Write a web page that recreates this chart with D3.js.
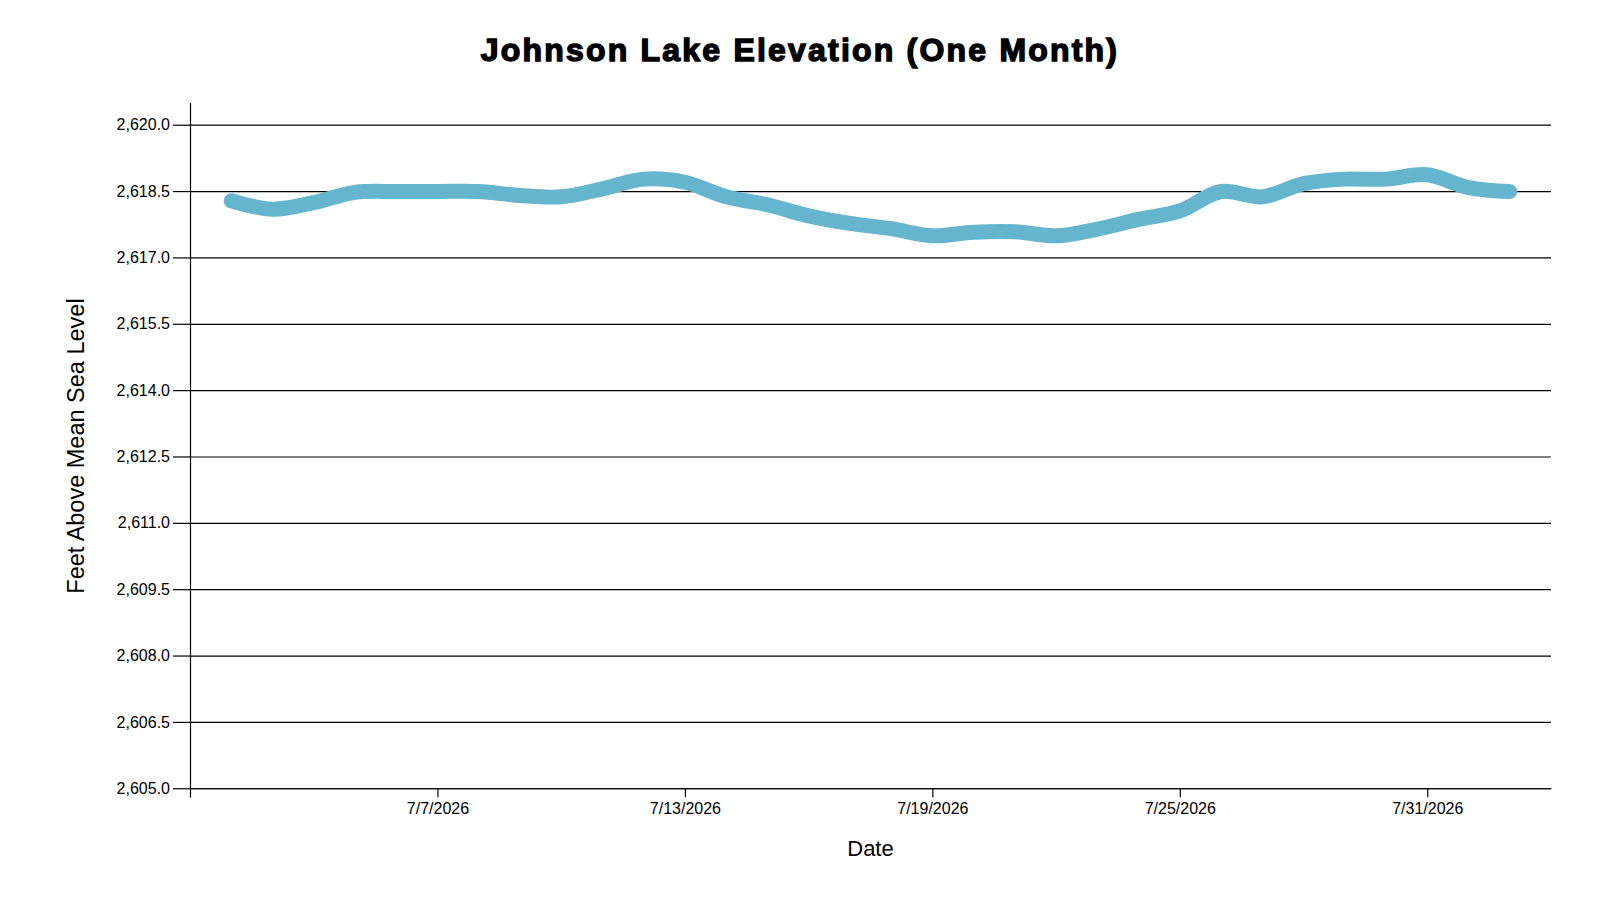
<!DOCTYPE html>
<html>
<head>
<meta charset="utf-8">
<script src="https://cdn.jsdelivr.net/npm/d3@7"></script>
<style>
  body { margin: 0; background: #fff; }
  text { font-family: "Liberation Sans", Arial, sans-serif; }
</style>
</head>
<body>
<div id="container"></div>
<script>
let w = 1600;
let h = 900;

// daily readings, 7/2/2026 .. 8/2/2026
let dates = ["2026-07-02","2026-07-03","2026-07-04","2026-07-05","2026-07-06","2026-07-07","2026-07-08","2026-07-09",
  "2026-07-10","2026-07-11","2026-07-12","2026-07-13","2026-07-14","2026-07-15","2026-07-16","2026-07-17",
  "2026-07-18","2026-07-19","2026-07-20","2026-07-21","2026-07-22","2026-07-23","2026-07-24","2026-07-25",
  "2026-07-26","2026-07-27","2026-07-28","2026-07-29","2026-07-30","2026-07-31","2026-08-01","2026-08-02"];
let elevations = [2618.28, 2618.09, 2618.24, 2618.47, 2618.49, 2618.49, 2618.49, 2618.40,
  2618.37, 2618.55, 2618.77, 2618.70, 2618.37, 2618.19, 2617.94, 2617.77,
  2617.65, 2617.49, 2617.57, 2617.58, 2617.49, 2617.64, 2617.86, 2618.05,
  2618.49, 2618.37, 2618.67, 2618.77, 2618.77, 2618.87, 2618.58, 2618.49];
let xTickDates = ["2026-07-07","2026-07-13","2026-07-19","2026-07-25","2026-07-31"];
let yTickValues = [2605.0, 2606.5, 2608.0, 2609.5, 2611.0, 2612.5, 2614.0, 2615.5, 2617.0, 2618.5, 2620.0];

let parseDate = d3.timeParse("%Y-%m-%d");
let data = dates.map(function(d, i){ return {date: parseDate(d), value: elevations[i]}; });

let plotLeft = 190;
let plotRight = 1551;
let plotTop = 102.6;
let plotBottom = 797.1;

let viz = d3.select("#container")
  .append("svg")
    .attr("width", w)
    .attr("height", h)
;

let xScale = d3.scaleTime()
    .domain([d3.timeDay.offset(data[0].date, -1), d3.timeDay.offset(data[data.length-1].date, 1)])
    .range([plotLeft, plotRight])
;
let yScale = d3.scaleLinear()
    .domain([2604.8, 2620.5])
    .range([plotBottom, plotTop])
;

// horizontal grid lines
let gridGroup = viz.append("g").classed("grid", true)
  .attr("transform", "translate(" + plotLeft + ",0)");
gridGroup.call(d3.axisLeft(yScale).tickValues(yTickValues).tickSize(-(plotRight-plotLeft)).tickFormat(""));
gridGroup.select(".domain").remove();
gridGroup.selectAll("line").attr("stroke", "#000").attr("stroke-width", 1.2);

let yAxis = d3.axisLeft(yScale)
  .tickValues(yTickValues)
  .tickSizeInner(17)
  .tickSizeOuter(0)
  .tickPadding(3)
  .tickFormat(d3.format(",.1f"));
let yAxisGroup = viz.append("g").classed("yAxis", true)
  .attr("transform", "translate(" + plotLeft + ",0)");
yAxisGroup.call(yAxis);
yAxisGroup.selectAll("text").attr("font-size", 16).attr("fill", "#000");
yAxisGroup.selectAll("line, path").attr("stroke", "#000").attr("stroke-width", 1.2);

let xAxis = d3.axisBottom(xScale)
  .tickValues(xTickDates.map(parseDate))
  .tickSizeInner(9)
  .tickSizeOuter(0)
  .tickPadding(5)
  .tickFormat(d3.timeFormat("%-m/%-d/%Y"));
let xAxisGroup = viz.append("g").classed("xAxis", true)
  .attr("transform", "translate(0," + yScale(2605) + ")");
xAxisGroup.call(xAxis);
xAxisGroup.selectAll("text").attr("font-size", 16).attr("fill", "#000");
xAxisGroup.selectAll("line, path").attr("stroke", "#000").attr("stroke-width", 1.2);

// the elevation line
let line = d3.line()
  .x(function(d){ return xScale(d.date); })
  .y(function(d){ return yScale(d.value); })
  .curve(d3.curveCatmullRom);

viz.append("path")
  .datum(data)
  .attr("d", line)
  .attr("fill", "none")
  .attr("stroke", "#64b5cd")
  .attr("stroke-width", 15)
  .attr("stroke-linecap", "round")
  .attr("stroke-linejoin", "round")
;

// title and axis labels
viz.append("text")
  .attr("x", 800)
  .attr("y", 61)
  .attr("text-anchor", "middle")
  .attr("font-size", 32)
  .attr("font-weight", "bold")
  .attr("letter-spacing", 2.2)
  .attr("stroke", "#000")
  .attr("stroke-width", 1.4)
  .text("Johnson Lake Elevation (One Month)")
;

viz.append("text")
  .attr("x", (plotLeft + plotRight) / 2)
  .attr("y", 856)
  .attr("text-anchor", "middle")
  .attr("font-size", 22)
  .text("Date")
;

viz.append("text")
  .attr("transform", "translate(84,446) rotate(-90)")
  .attr("text-anchor", "middle")
  .attr("font-size", 23.5)
  .text("Feet Above Mean Sea Level")
;
</script>
</body>
</html>
